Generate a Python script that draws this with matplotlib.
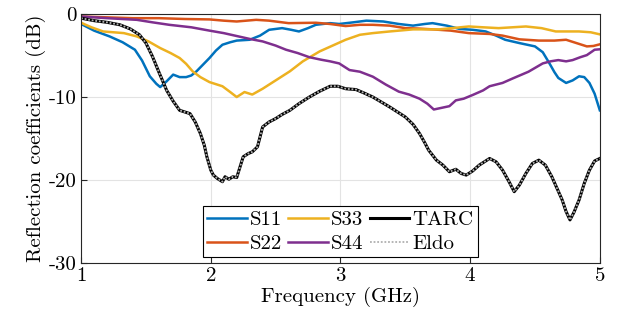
import matplotlib.pyplot as plt
import numpy as np

plt.rcParams['font.family'] = ['cmr10', 'DejaVu Serif']
plt.rcParams['mathtext.fontset'] = 'cm'
plt.rcParams['axes.formatter.use_mathtext'] = True

# 频率采样点 (GHz) 与各端口反射系数 (dB)
f11 = [1.0, 1.1, 1.22, 1.32, 1.415, 1.47, 1.53, 1.58, 1.61, 1.66, 1.71, 1.76, 1.81, 1.85, 1.89, 1.94, 1.99, 2.04,
       2.09, 2.15, 2.2, 2.3, 2.38, 2.45, 2.55, 2.62, 2.68, 2.75, 2.81, 2.92, 2.99, 3.1, 3.2, 3.33, 3.45, 3.56, 3.65,
       3.71, 3.82, 3.92, 4.02, 4.12, 4.2, 4.27, 4.38, 4.5, 4.56, 4.61, 4.65, 4.68, 4.74, 4.79, 4.84, 4.88, 4.92,
       4.96, 5.0]
s11 = [-1.2, -2.0, -2.7, -3.4, -4.3, -5.6, -7.5, -8.4, -8.8, -8.1, -7.3, -7.6, -7.6, -7.4, -6.9, -6.1, -5.3, -4.4,
       -3.7, -3.4, -3.2, -3.1, -2.6, -1.9, -1.7, -1.9, -2.1, -1.7, -1.3, -1.1, -1.2, -1.0, -0.8, -0.9, -1.2, -1.4,
       -1.2, -1.1, -1.4, -1.8, -1.9, -2.1, -2.6, -3.1, -3.5, -3.9, -4.6, -5.9, -7.0, -7.7, -8.3, -8.0, -7.5, -7.6,
       -8.3, -9.6, -11.6]

f22 = [1.0, 1.2, 1.4, 1.6, 1.8, 1.99, 2.1, 2.2, 2.35, 2.45, 2.6, 2.81, 2.92, 3.04, 3.15, 3.25, 3.38, 3.5, 3.6,
       3.71, 3.85, 3.99, 4.15, 4.25, 4.38, 4.53, 4.65, 4.74, 4.82, 4.9, 4.95, 5.0]
s22 = [-0.3, -0.4, -0.5, -0.5, -0.6, -0.65, -0.8, -0.9, -0.7, -0.8, -1.1, -1.05, -1.2, -1.45, -1.3, -1.3, -1.4,
       -1.7, -1.75, -1.85, -2.0, -2.3, -2.4, -2.6, -3.05, -3.2, -3.2, -3.1, -3.5, -3.9, -3.85, -3.65]

f33 = [1.0, 1.08, 1.17, 1.25, 1.33, 1.43, 1.52, 1.61, 1.69, 1.76, 1.81, 1.86, 1.92, 1.99, 2.09, 2.15, 2.2, 2.26,
       2.32, 2.4, 2.5, 2.61, 2.71, 2.84, 2.94, 3.04, 3.15, 3.25, 3.38, 3.56, 3.76, 3.99, 4.1, 4.22, 4.43, 4.55,
       4.66, 4.84, 4.93, 5.0]
s33 = [-1.05, -1.6, -2.1, -2.2, -2.3, -2.7, -3.3, -4.1, -4.7, -5.3, -6.0, -6.9, -7.6, -8.2, -8.7, -9.4, -10.0,
       -9.4, -9.7, -9.0, -8.0, -6.9, -5.7, -4.5, -3.8, -3.1, -2.5, -2.3, -2.1, -1.85, -1.85, -1.5, -1.6, -1.7,
       -1.5, -1.7, -2.1, -2.1, -2.2, -2.45]

f44 = [1.0, 1.2, 1.43, 1.55, 1.68, 1.85, 1.99, 2.1, 2.2, 2.3, 2.4, 2.5, 2.58, 2.67, 2.76, 2.85, 2.92, 2.99, 3.07,
       3.15, 3.25, 3.35, 3.45, 3.53, 3.61, 3.67, 3.72, 3.78, 3.84, 3.89, 3.95, 4.02, 4.1, 4.15, 4.25, 4.33, 4.45,
       4.56, 4.62, 4.68, 4.74, 4.79, 4.85, 4.9, 4.96, 5.0]
s44 = [-0.3, -0.5, -0.7, -1.0, -1.3, -1.6, -2.0, -2.3, -2.65, -3.0, -3.3, -3.8, -4.3, -4.7, -5.2, -5.5, -5.7, -5.95,
       -6.75, -6.95, -7.55, -8.5, -9.35, -9.7, -10.2, -10.8, -11.5, -11.3, -11.1, -10.4, -10.2, -9.75, -9.2, -8.7,
       -8.3, -7.75, -6.95, -5.95, -5.7, -5.55, -5.7, -5.55, -5.2, -4.95, -4.3, -4.25]

ft = [1.0, 1.1, 1.2, 1.3, 1.38, 1.45, 1.5, 1.55, 1.6, 1.66, 1.71, 1.76, 1.8, 1.84, 1.88, 1.92, 1.95, 1.97, 2.0,
      2.02, 2.05, 2.09, 2.11, 2.14, 2.17, 2.2, 2.25, 2.29, 2.32, 2.36, 2.4, 2.45, 2.5, 2.55, 2.61, 2.68, 2.76, 2.84,
      2.92, 2.98, 3.04, 3.12, 3.18, 3.25, 3.38, 3.5, 3.56, 3.61, 3.65, 3.68, 3.74, 3.79, 3.84, 3.89, 3.93, 3.97,
      4.02, 4.07, 4.15, 4.2, 4.25, 4.3, 4.34, 4.38, 4.43, 4.48, 4.53, 4.58, 4.63, 4.67, 4.71, 4.74, 4.77, 4.8,
      4.84, 4.88, 4.92, 4.96, 5.0]
tarc = [-0.5, -0.8, -1.0, -1.3, -1.8, -2.5, -3.5, -5.1, -7.0, -9.2, -10.5, -11.6, -11.8, -12.0, -13.0, -14.4,
        -15.8, -17.2, -18.8, -19.4, -19.8, -20.2, -19.6, -19.9, -19.6, -19.7, -17.2, -16.8, -16.6, -16.0, -13.6,
        -13.0, -12.6, -12.1, -11.6, -10.8, -10.0, -9.3, -8.7, -8.7, -9.0, -9.1, -9.5, -10.0, -11.2, -12.4, -13.3,
        -14.4, -15.5, -16.4, -17.6, -18.2, -19.0, -18.7, -19.2, -19.4, -18.9, -18.2, -17.4, -17.8, -18.8, -20.2,
        -21.4, -20.6, -19.2, -18.0, -17.6, -18.2, -19.6, -21.0, -22.4, -23.8, -24.8, -23.9, -22.4, -20.4, -18.8,
        -17.7, -17.4]

xticks = [1, 2, 3, 4, 5]
yticks = [-30, -20, -10, 0]
ytick_labels = ['-30', '-20', '-10', '0']

fig = plt.figure(figsize=(6.19, 3.26), dpi=100)
ax = fig.add_axes([0.131, 0.193, 0.838, 0.764])

ax.plot(f11, s11, color='#0072BD', lw=1.8, label='S11')
ax.plot(f22, s22, color='#D95319', lw=1.8, label='S22')
ax.plot(f33, s33, color='#EDB120', lw=1.8, label='S33')
ax.plot(f44, s44, color='#7E2F8E', lw=1.8, label='S44')
ax.plot(ft, tarc, color='black', lw=2.2, label='TARC')
ax.plot(ft, tarc, color='#b0b0b0', lw=1.3, ls=(0, (1, 1)), label='Eldo')

ax.set_xlim(1, 5)
ax.set_ylim(-30, 0)
ax.set_xticks(xticks)
ax.set_yticks(yticks)
ax.set_yticklabels(ytick_labels)
ax.grid(True, color='#e3e3e3', lw=0.8)
ax.set_axisbelow(True)
ax.tick_params(direction='in', labelsize=15, length=4, color='#262626', pad=3)
for sp in ax.spines.values():
    sp.set_color('#262626')
    sp.set_linewidth(0.8)
ax.set_xlabel('Frequency (GHz)', fontsize=15, labelpad=1)
ax.set_ylabel('Reflection coefficients (dB)', fontsize=15, labelpad=2)

leg = ax.legend(loc='lower center', ncol=3, fontsize=15, fancybox=False, framealpha=1,
                edgecolor='black', handlelength=1.9, columnspacing=0.3, handletextpad=0.15,
                borderpad=0.2, labelspacing=0.25, borderaxespad=0, bbox_to_anchor=(0.5, 0.024))
leg.get_frame().set_linewidth(0.8)

fig.savefig('out.png', dpi=100)
